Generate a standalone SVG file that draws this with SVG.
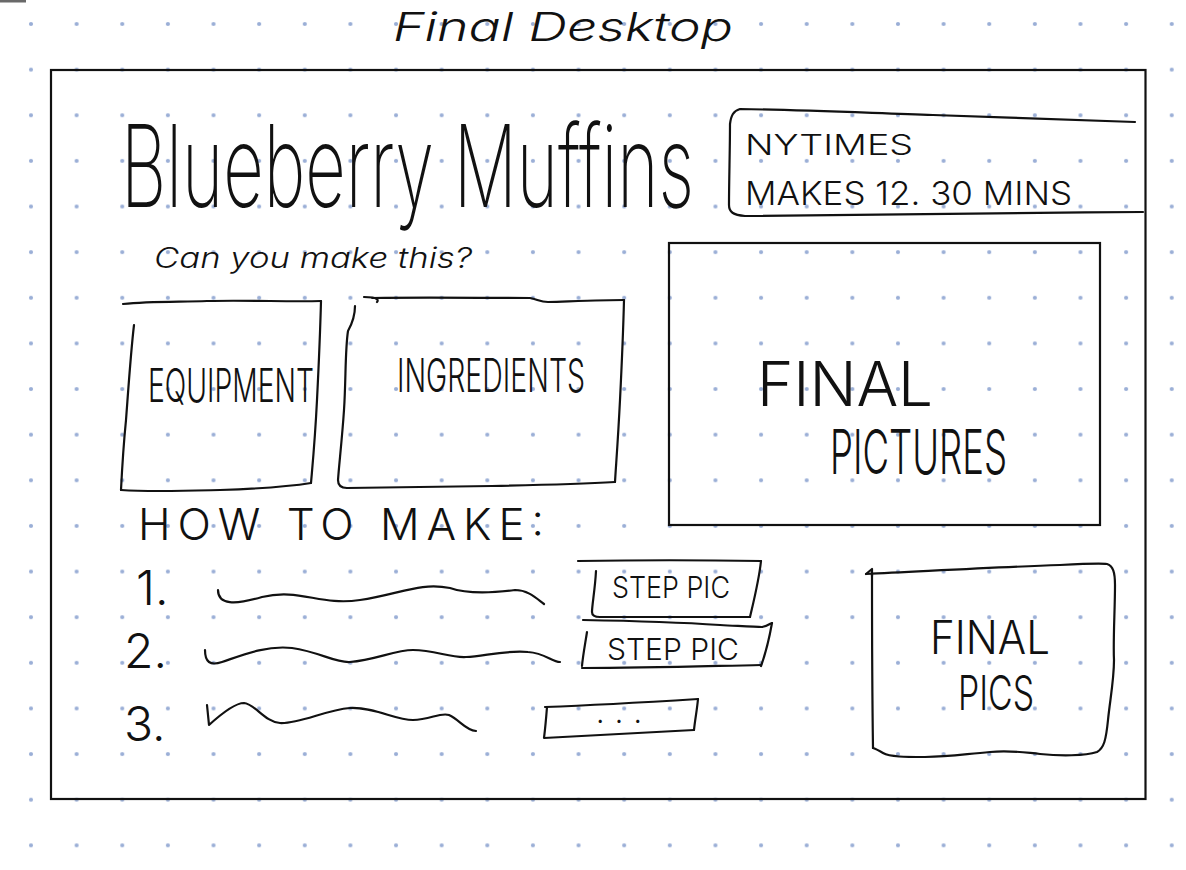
<svg xmlns="http://www.w3.org/2000/svg" width="1186" height="870" viewBox="0 0 1186 870">
  <defs>
    <pattern id="dots" patternUnits="userSpaceOnUse" x="8.185" y="1.185" width="45.63" height="45.63">
      <circle cx="22.815" cy="22.815" r="2.1" fill="#9aaed6"/>
    </pattern>
  </defs>
  <style>
    .ink { fill: none; stroke: #111; stroke-width: 2.2; stroke-linecap: round; stroke-linejoin: round; }
    .box { fill: none; stroke: #111; stroke-width: 2.2; }
    .hand { font-family: Inter, "Liberation Sans", sans-serif; font-weight: 300; fill: #111; }
    .thin { font-weight: 200; }
    .cursive { font-style: italic; }
  </style>

  <!-- page with dot grid -->
  <rect width="1186" height="870" fill="#fff"/>
  <rect width="1186" height="870" fill="url(#dots)"/>
  <path d="M0,1 L26,1" stroke="#444" stroke-width="3" opacity="0.8"/>

  <!-- heading above the frame -->
  <g id="page-title">
    <text class="hand cursive" x="393" y="41" font-size="40" textLength="340" lengthAdjust="spacingAndGlyphs">Final Desktop</text>
  </g>

  <!-- desktop frame -->
  <g id="desktop-frame">
    <rect class="box" x="51" y="70" width="1094.5" height="729"/>
  </g>

  <!-- recipe title (tall, narrow lettering) -->
  <g id="recipe-title">
    <text class="hand thin" transform="translate(121 207) scale(0.5 1)" x="0" y="0" font-size="114" textLength="1146" lengthAdjust="spacingAndGlyphs">Blueberry Muffins</text>
    <text class="hand cursive" x="154" y="268" font-size="28" textLength="318" lengthAdjust="spacingAndGlyphs">Can you make this?</text>
  </g>

  <!-- source / yield box -->
  <g id="recipe-info">
    <path class="ink" d="M730,124 C731,116 733,111 740,109 C800,110 870,113 933,115 C1000,117 1070,120 1135,122"/>
    <path class="ink" d="M730,124 C730,150 729,180 729,205 C729,212 733,215 745,216 C850,215 1000,213 1143,212"/>
    <text class="hand" x="745" y="155" font-size="29" textLength="168" lengthAdjust="spacingAndGlyphs">NYTIMES</text>
    <text class="hand" x="745" y="205" font-size="33" textLength="327" lengthAdjust="spacingAndGlyphs">MAKES 12. 30 MINS</text>
  </g>

  <!-- equipment panel -->
  <g id="equipment">
    <path class="ink" d="M123,304 C150,301 180,302 207,301 C250,300 290,302 321,301"/>
    <path class="ink" d="M321,301 C320,340 318,380 317,400 C315,440 313,460 311,483"/>
    <path class="ink" d="M311,483 C280,488 250,489 220,490 C180,491 150,492 121,490"/>
    <path class="ink" d="M121,490 C122,470 124,440 126,420 C129,380 131,350 134,325"/>
    <text class="hand" x="148" y="402" font-size="46" textLength="166" lengthAdjust="spacingAndGlyphs">EQUIPMENT</text>
  </g>

  <!-- ingredients panel -->
  <g id="ingredients">
    <path class="ink" d="M364,297 C380,297 378,301 377,302 M372,298 C430,297 480,298 530,298 C537,299 540,302 548,302 C580,301 605,300 624,300"/>
    <path class="ink" d="M355,306 C355,315 353,322 348,331 C345,350 346,380 344,410 C342,440 339,465 338,480 C338,486 342,488 347,488"/>
    <path class="ink" d="M347,488 C400,487 450,487 492,486 C540,485 580,484 615,482"/>
    <path class="ink" d="M624,300 C623,340 621,380 620,400 C618,440 616,465 615,482"/>
    <text class="hand" x="397" y="392" font-size="46" textLength="188" lengthAdjust="spacingAndGlyphs">INGREDIENTS</text>
  </g>

  <!-- main picture area -->
  <g id="final-pictures">
    <rect class="box" x="669" y="243" width="431" height="282" stroke-width="2"/>
    <text class="hand" x="757" y="406" font-size="62" textLength="176" lengthAdjust="spacing">FINAL</text>
    <text class="hand" x="830" y="474" font-size="62" textLength="177" lengthAdjust="spacingAndGlyphs">PICTURES</text>
  </g>

  <!-- method heading -->
  <g id="how-to-make">
    <text class="hand" x="138" y="540" font-size="44" textLength="406" lengthAdjust="spacing">HOW TO MAKE:</text>
  </g>

  <!-- step 1 -->
  <g id="step-1">
    <text class="hand" x="136" y="605" font-size="48">1.</text>
    <path class="ink" d="M218,590 C218,605 235,605 262,597 C300,588 320,606 360,600 C400,594 420,582 450,588 C470,595 500,592 515,590 C528,590 536,598 544,604"/>
    <path class="ink" d="M578,561 C640,560 700,560 761,561"/>
    <path class="ink" d="M596,571 C595,590 592,605 592,612 C592,616 596,617 600,617 C660,617 710,617 750,617"/>
    <path class="ink" d="M761,561 C759,580 754,600 750,617"/>
    <text class="hand" x="612" y="598" font-size="30" textLength="118" lengthAdjust="spacingAndGlyphs">STEP PIC</text>
  </g>

  <!-- step 2 -->
  <g id="step-2">
    <text class="hand" x="124" y="668" font-size="48">2.</text>
    <path class="ink" d="M205,650 C205,662 210,666 222,662 C240,656 265,645 292,648 C320,652 335,663 350,662 C375,660 395,650 413,650 C435,650 450,658 466,657 C485,656 505,650 528,652 C545,653 552,662 560,662"/>
    <path class="ink" d="M583,620 C640,621 690,623 720,625 C740,626 755,627 762,627 C768,626 771,623 772,623"/>
    <path class="ink" d="M772,623 C769,640 765,655 761,666"/>
    <path class="ink" d="M587,632 C585,645 583,655 582,666"/>
    <path class="ink" d="M582,668 C650,668 710,666 761,665"/>
    <text class="hand" x="607" y="660" font-size="30" textLength="132" lengthAdjust="spacingAndGlyphs">STEP PIC</text>
  </g>

  <!-- step 3 -->
  <g id="step-3">
    <text class="hand" x="124" y="741" font-size="48">3.</text>
    <path class="ink" d="M207,705 L209,725 C220,715 235,703 244,703 C255,704 265,722 280,723 C300,724 325,710 350,708 C375,707 395,720 413,720 C430,720 440,712 449,715 C460,720 465,730 476,731"/>
    <path class="ink" d="M545,707 C600,705 650,702 698,699"/>
    <path class="ink" d="M547,707 C546,720 545,730 544,738 C600,735 650,732 694,730"/>
    <path class="ink" d="M698,699 C697,710 695,720 694,730"/>
    <text class="hand" x="596" y="723" font-size="30" textLength="46" lengthAdjust="spacing">...</text>
  </g>

  <!-- secondary picture area -->
  <g id="final-pics">
    <path class="ink" d="M866,574 L872,569 L872,576"/>
    <path class="ink" d="M866,574 C930,571 1000,567 1060,565 C1080,564 1100,563 1107,564 C1113,566 1115,572 1115,585 C1115,610 1113,640 1114,660 C1114,680 1110,700 1108,720 C1106,740 1104,748 1097,752 C1085,756 1060,756 1040,754 C1020,752 1010,750 990,752 C965,754 950,757 925,757 C905,757 890,757 883,753 C878,750 876,749 873,748"/>
    <path class="ink" d="M873,748 C872,680 872,620 872,574"/>
    <text class="hand" x="930" y="654" font-size="46" textLength="120" lengthAdjust="spacingAndGlyphs">FINAL</text>
    <text class="hand" x="958" y="710" font-size="48" textLength="76" lengthAdjust="spacingAndGlyphs">PICS</text>
  </g>
</svg>
